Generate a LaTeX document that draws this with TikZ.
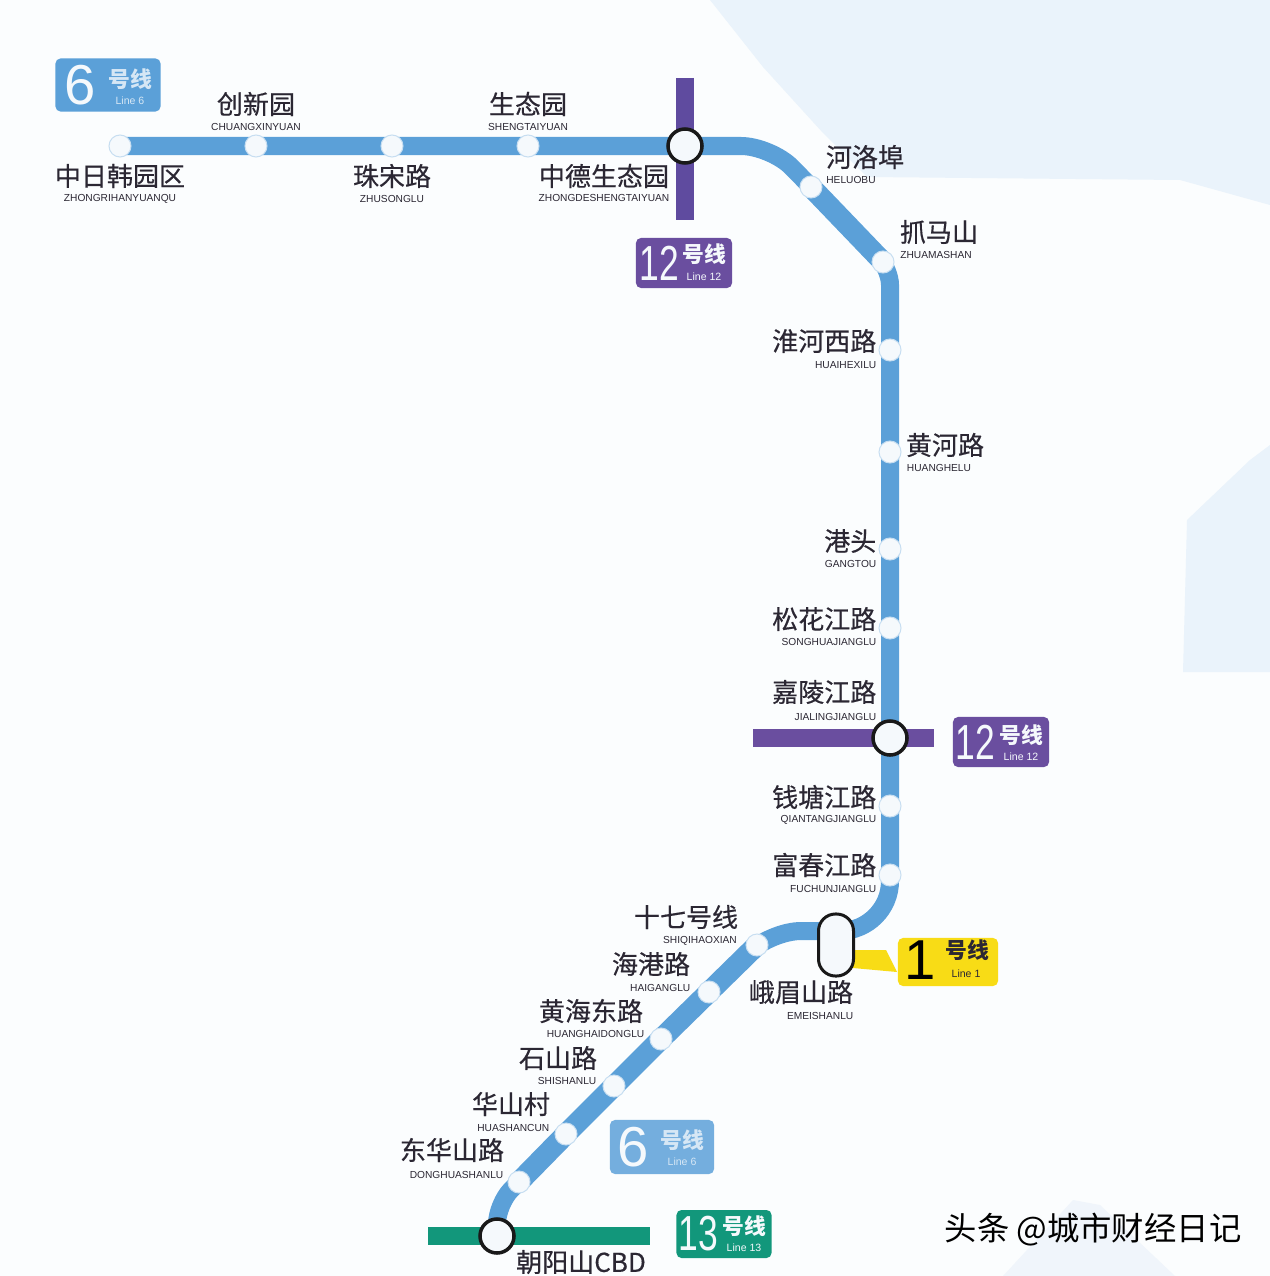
\documentclass[tikz,border=0pt]{standalone}
\usepackage{fontspec}
\setmainfont{Liberation Sans}
\newfontfamily\cjk{Noto Sans CJK SC}
\newfontfamily\cjkheavy[FakeBold=0.4]{Noto Sans CJK SC}
\usetikzlibrary{backgrounds}

\definecolor{paperbg}{HTML}{FBFDFE}
\definecolor{seabg}{HTML}{EAF3FB}
\definecolor{hillbg}{HTML}{F0F5FB}
\definecolor{linesix}{HTML}{5BA0D8}
\definecolor{linetwelve}{HTML}{5F4B9F}
\definecolor{badgetwelve}{HTML}{6A4E9F}
\definecolor{linethirteen}{HTML}{12977B}
\definecolor{lineone}{HTML}{F8DC16}
\definecolor{inktext}{HTML}{2B2733}
\definecolor{stopfill}{HTML}{F5F9FC}

\tikzset{
  stopdot/.style={circle,draw=stopfill!70!linesix,fill=stopfill,line width=0.01cm,minimum size=0.22cm,inner sep=0pt},
  hubdot/.style={circle,draw=black!90,fill=stopfill,line width=0.035cm,minimum size=0.34cm,inner sep=0pt},
  stationname/.style={inner sep=0pt,text=inktext,font=\cjkheavy\fontsize{7.4}{8}\selectfont},
  pinyin/.style={inner sep=0pt,text=inktext,font=\fontsize{2.9}{3}\selectfont},
  badge/.style={rectangle,rounded corners=0.05cm,inner sep=0pt},
  badgenum/.style={inner sep=0pt,text=#1,font=\fontsize{16}{17}\selectfont},
  badgenumtwo/.style={inner sep=0pt,text=#1,font=\fontsize{14}{15}\selectfont},
  badgecn/.style={inner sep=0pt,text=#1,font=\cjk\bfseries\fontsize{6.2}{7}\selectfont},
  badgeen/.style={inner sep=0pt,text=#1,font=\fontsize{3}{4}\selectfont},
  metro/.style={line width=0.18cm,draw=linesix,rounded corners=#1},
  diagline/.style={line width=0.21cm,draw=linesix},
  crossline/.style={line width=0.18cm,draw=#1}
}

\begin{document}
\begin{tikzpicture}[x=0.01cm,y=-0.01cm]
\useasboundingbox (0,0) rectangle (1270,1276);

\node[stopdot] (zhongri) at (120,146) {};
\node[stopdot] (chuangxin) at (256,146) {};
\node[stopdot] (zhusong) at (392,146) {};
\node[stopdot] (shengtai) at (528,146) {};
\node[hubdot] (zhongde) at (685,146) {};
\node[stopdot] (heluo) at (811,187) {};
\node[stopdot] (zhuama) at (883,262) {};
\node[stopdot] (huaihe) at (890,350) {};
\node[stopdot] (huanghe) at (890,452) {};
\node[stopdot] (gangtou) at (890,549) {};
\node[stopdot] (songhua) at (890,628) {};
\node[hubdot] (jialing) at (890,738) {};
\node[stopdot] (qiantang) at (890,806) {};
\node[stopdot] (fuchun) at (890,875) {};
\node[rectangle,rounded corners=0.17cm,draw=black!90,fill=stopfill,line width=0.03cm,minimum width=0.35cm,minimum height=0.62cm,inner sep=0pt] (emei) at (836,945) {};
\node[stopdot] (shiqi) at (757,945) {};
\node[stopdot] (haigang) at (709,992) {};
\node[stopdot] (huanghai) at (661,1039) {};
\node[stopdot] (shishan) at (614,1086) {};
\node[stopdot] (huashan) at (566,1134) {};
\node[stopdot] (donghua) at (519,1182) {};
\node[hubdot] (chaoyang) at (497,1236) {};

\coordinate (bendheluo) at (771,146);
\coordinate (bendzhuama) at (890,270);
\coordinate (bendfuchun) at (890,931);
\coordinate (emeitop) at (836,931);
\coordinate (bendshiqi) at (771,931);
\coordinate (benddonghua) at (497,1204);
\coordinate (twelvetop) at (685,78);
\coordinate (twelvebottom) at (685,220);
\coordinate (twelveleft) at (753,738);
\coordinate (twelveright) at (934,738);
\coordinate (thirteenleft) at (428,1236);
\coordinate (thirteenright) at (650,1236);

\begin{scope}[on background layer]
\fill[paperbg] (0,0) rectangle (1270,1276);
\fill[seabg] (710,0) -- (763,67) -- (823,133) -- (867,177) -- (1180,180) -- (1270,205) -- (1270,0) -- cycle;
\fill[seabg] (1187,520) -- (1250,460) -- (1270,445) -- (1270,672) -- (1183,672) -- cycle;
\fill[hillbg] (1003,1276) -- (1073,1200) -- (1100,1205) -- (1175,1276) -- cycle;

\draw[crossline=linetwelve] (twelvetop) -- (twelvebottom);
\draw[crossline=badgetwelve] (twelveleft) -- (twelveright);
\draw[crossline=linethirteen] (thirteenleft) -- (thirteenright);
\fill[lineone] (853,950) -- (886,950) -- (897,972) -- (853,968) -- cycle;

\draw[metro=0.3cm] (zhongri.center) -- (chuangxin.center) -- (zhusong.center) -- (shengtai.center) -- (zhongde.center) -- (bendheluo) -- (heluo.center);
\draw[metro=0.15cm] (heluo.center) -- (bendzhuama) -- (huaihe.center) -- (huanghe.center) -- (gangtou.center) -- (songhua.center) -- (jialing.center) -- (qiantang.center) -- (fuchun.center);
\draw[metro=0.5cm] (fuchun.center) -- (bendfuchun) -- (emeitop);
\draw[metro=0.3cm] (emeitop) -- (bendshiqi) -- (haigang.center) -- (huanghai.center) -- (shishan.center) -- (huashan.center);
\draw[metro=0.2cm] (huashan.center) -- (benddonghua) -- (chaoyang.center);
\draw[diagline] (heluo.center) -- (zhuama.center);
\draw[diagline] (shiqi.center) -- (haigang.center) -- (huanghai.center) -- (shishan.center) -- (huashan.center) -- (donghua.center);
\end{scope}

\node[stationname] (zhongriname) at (120,176) {中日韩园区};
\node[pinyin] (zhongripy) at (120,199) {ZHONGRIHANYUANQU};
\node[stationname] (chuangxinname) at (256,104) {创新园};
\node[pinyin] (chuangxinpy) at (256,127) {CHUANGXINYUAN};
\node[stationname] (zhusongname) at (392,176) {珠宋路};
\node[pinyin] (zhusongpy) at (392,199) {ZHUSONGLU};
\node[stationname] (shengtainame) at (528,104) {生态园};
\node[pinyin] (shengtaipy) at (528,127) {SHENGTAIYUAN};
\node[stationname] (zhongdename) at (604,176) {中德生态园};
\node[pinyin] (zhongdepy) at (604,198) {ZHONGDESHENGTAIYUAN};
\node[stationname] (heluoname) at (865,157) {河洛埠};
\node[pinyin] (heluopy) at (851,180) {HELUOBU};
\node[stationname] (zhuamaname) at (939,232) {抓马山};
\node[pinyin] (zhuamapy) at (936,255) {ZHUAMASHAN};
\node[stationname,anchor=east] (huaihename) at (877,341) {淮河西路};
\node[pinyin,anchor=east] (huaihepy) at (877,365) {HUAIHEXILU};
\node[stationname] (huanghename) at (945,445) {黄河路};
\node[pinyin] (huanghepy) at (939,468) {HUANGHELU};
\node[stationname,anchor=east] (gangtouname) at (877,541) {港头};
\node[pinyin,anchor=east] (gangtoupy) at (877,564) {GANGTOU};
\node[stationname,anchor=east] (songhuaname) at (877,619) {松花江路};
\node[pinyin,anchor=east] (songhuapy) at (877,642) {SONGHUAJIANGLU};
\node[stationname,anchor=east] (jialingname) at (877,692) {嘉陵江路};
\node[pinyin,anchor=east] (jialingpy) at (877,717) {JIALINGJIANGLU};
\node[stationname,anchor=east] (qiantangname) at (877,797) {钱塘江路};
\node[pinyin,anchor=east] (qiantangpy) at (877,820) {QIANTANGJIANGLU};
\node[stationname,anchor=east] (fuchunname) at (877,865) {富春江路};
\node[pinyin,anchor=east] (fuchunpy) at (877,889) {FUCHUNJIANGLU};
\node[stationname] (shiqiname) at (686,917) {十七号线};
\node[pinyin] (shiqipy) at (700,941) {SHIQIHAOXIAN};
\node[stationname] (haigangname) at (651,964) {海港路};
\node[pinyin,anchor=east] (haigangpy) at (691,988) {HAIGANGLU};
\node[stationname] (huanghainame) at (591,1011) {黄海东路};
\node[pinyin,anchor=east] (huanghaipy) at (645,1034) {HUANGHAIDONGLU};
\node[stationname] (shishanname) at (558,1058) {石山路};
\node[pinyin,anchor=east] (shishanpy) at (597,1081) {SHISHANLU};
\node[stationname] (huashanname) at (511,1104) {华山村};
\node[pinyin,anchor=east] (huashanpy) at (550,1128) {HUASHANCUN};
\node[stationname] (donghuaname) at (452,1150) {东华山路};
\node[pinyin,anchor=east] (donghuapy) at (504,1175) {DONGHUASHANLU};
\node[stationname] (emeiname) at (801,992) {峨眉山路};
\node[pinyin,anchor=east] (emeipy) at (854,1016) {EMEISHANLU};
\node[stationname] (chaoyangname) at (581,1262) {朝阳山CBD};

\node[badge,fill=linesix,minimum width=1.05cm,minimum height=0.53cm] (sixtop) at (108,85) {};
\node[badgenum=stopfill] (sixtopnum) at (80,85) {6};
\node[badgecn=stopfill!80!linesix] (sixtopcn) at (130,79) {号线};
\node[badgeen=stopfill!80!linesix] (sixtopen) at (130,101) {Line 6};

\node[badge,fill=badgetwelve,minimum width=0.96cm,minimum height=0.50cm] (twelvetopb) at (684,263) {};
\node[badgenumtwo=stopfill] (twelvetopnum) at (659,263) {\scalebox{0.72}[1]{12}};
\node[badgecn=stopfill] (twelvetopcn) at (704,254) {号线};
\node[badgeen=stopfill] (twelvetopen) at (704,277) {Line 12};

\node[badge,fill=badgetwelve,minimum width=0.96cm,minimum height=0.50cm] (twelvemid) at (1001,742) {};
\node[badgenumtwo=stopfill] (twelvemidnum) at (975,742) {\scalebox{0.72}[1]{12}};
\node[badgecn=stopfill] (twelvemidcn) at (1021,735) {号线};
\node[badgeen=stopfill] (twelvemiden) at (1021,757) {Line 12};

\node[badge,fill=lineone,minimum width=1.00cm,minimum height=0.48cm] (oneb) at (948,962) {};
\node[badgenum=black] (onenum) at (920,960) {1};
\node[badgecn=inktext] (onecn) at (967,950) {号线};
\node[badgeen=inktext] (oneen) at (966,974) {Line 1};

\node[badge,fill=linesix!85,minimum width=1.04cm,minimum height=0.54cm] (sixlow) at (662,1147) {};
\node[badgenum=stopfill] (sixlownum) at (633,1147) {6};
\node[badgecn=stopfill!80!linesix] (sixlowcn) at (682,1140) {号线};
\node[badgeen=stopfill!80!linesix] (sixlowen) at (682,1162) {Line 6};

\node[badge,fill=linethirteen,minimum width=0.95cm,minimum height=0.48cm] (thirteenb) at (724,1234) {};
\node[badgenumtwo=stopfill] (thirteennum) at (698,1234) {\scalebox{0.72}[1]{13}};
\node[badgecn=stopfill] (thirteencn) at (744,1226) {号线};
\node[badgeen=stopfill] (thirteenen) at (744,1248) {Line 13};

\node[inner sep=0pt,text=black,font=\cjk\fontsize{9.2}{10}\selectfont] (watermark) at (1093,1230) {头条 @城市财经日记};

\end{tikzpicture}
\end{document}
